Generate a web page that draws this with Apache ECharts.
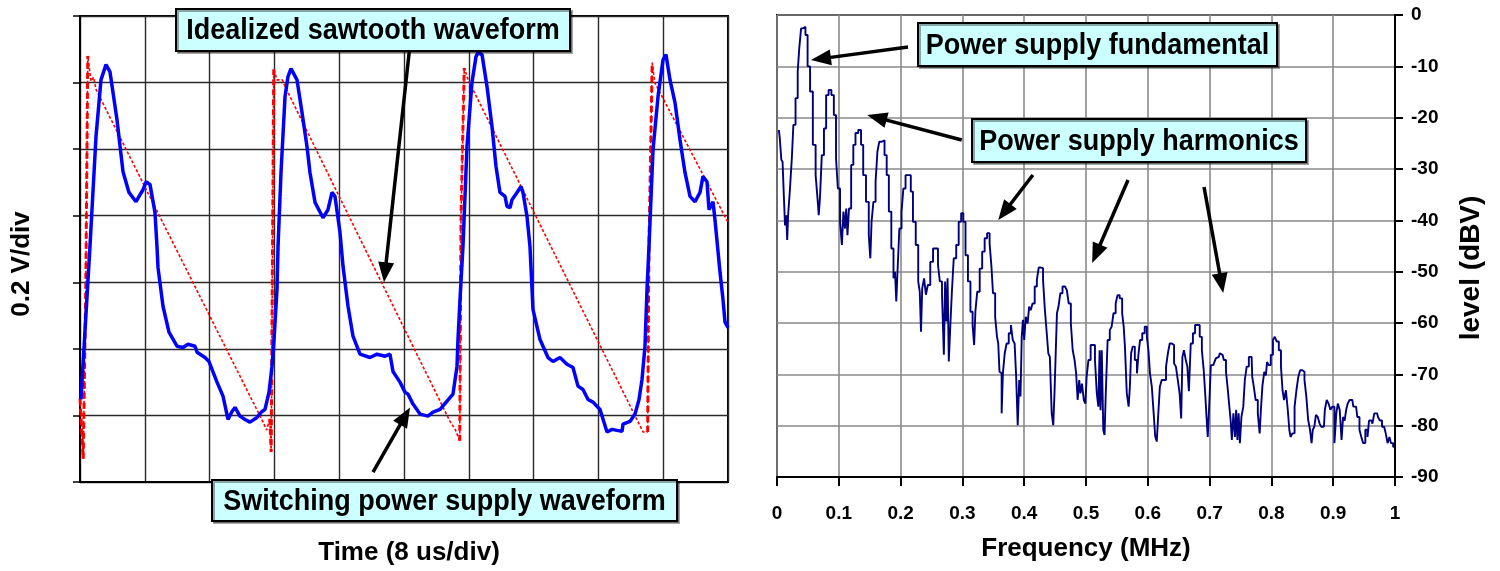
<!DOCTYPE html>
<html><head><meta charset="utf-8">
<script src="https://cdn.jsdelivr.net/npm/echarts@6/dist/echarts.min.js"></script>
<style>html,body{margin:0;padding:0;background:#fff}#c{width:1500px;height:571px}</style>
</head><body><div id="c"></div>
<script>
const FONT = '"Liberation Sans", Arial, Helvetica, sans-serif';

// ---- Left chart: oscilloscope trace (divisions) ----
const waveT = [0.015,0.154,0.247,0.324,0.401,0.463,0.571,0.664,0.756,0.864,
0.972,1.019,1.080,1.157,1.188,1.204,1.281,1.373,1.497,1.590,
1.667,1.775,1.806,1.929,1.991,2.114,2.207,2.284,2.346,2.392,
2.469,2.546,2.623,2.731,2.809,2.855,2.917,2.963,2.994,3.040,
3.056,3.102,3.164,3.210,3.256,3.349,3.426,3.503,3.549,3.627,
3.750,3.827,3.889,3.935,4.012,4.059,4.136,4.213,4.321,4.475,
4.583,4.707,4.784,4.830,4.938,5.015,5.062,5.139,5.247,5.370,
5.448,5.556,5.756,5.818,5.833,5.864,5.910,5.972,6.049,6.111,
6.142,6.204,6.281,6.358,6.420,6.481,6.559,6.590,6.636,6.667,
6.744,6.806,6.836,6.898,6.944,6.991,7.099,7.222,7.299,7.407,
7.515,7.608,7.685,7.762,7.840,7.917,8.025,8.133,8.210,8.364,
8.380,8.488,8.565,8.627,8.673,8.719,8.750,8.781,8.843,8.920,
8.997,9.043,9.105,9.182,9.259,9.336,9.414,9.491,9.568,9.614,
9.676,9.707,9.769,9.799,9.877,9.923,9.954,10.0];
const waveV = [1.24,3.54,5.19,6.04,6.27,6.16,5.44,4.66,4.35,4.21,
4.39,4.51,4.47,4.05,3.54,3.22,2.64,2.25,2.04,2.02,
2.07,2.04,1.95,1.87,1.81,1.50,1.29,0.94,1.06,1.12,
0.99,0.94,0.90,0.97,1.06,1.09,1.35,1.74,2.14,2.89,
3.54,4.65,5.79,6.09,6.21,6.04,5.55,5.04,4.65,4.20,
3.97,4.09,4.35,4.29,3.75,3.24,2.64,2.19,1.92,1.87,
1.92,1.89,1.92,1.66,1.50,1.35,1.32,1.17,1.02,0.99,
1.05,1.09,1.32,1.74,2.14,2.74,3.54,5.04,6.00,6.39,
6.45,6.42,5.94,5.34,4.74,4.35,4.29,4.14,4.12,4.24,
4.35,4.44,4.35,3.99,3.54,2.59,2.14,1.87,1.81,1.87,
1.77,1.72,1.44,1.39,1.24,1.20,1.09,0.75,0.79,0.76,
0.87,0.91,1.02,1.24,1.54,2.04,2.89,3.54,4.99,5.79,
6.34,6.42,6.04,5.70,5.14,4.65,4.29,4.21,4.35,4.59,
4.51,4.09,4.21,3.94,3.15,2.74,2.40,2.32];

// idealized sawtooth (full path) and its fast edges
const sawT = [0.00,0.05,0.09,0.12,0.17,0.21,0.25,2.82,2.88,2.93,2.95,2.99,3.04,3.12,3.19,5.71,5.79,5.86,5.88,5.93,5.99,8.69,8.76,8.78,8.83,8.87,8.95,10.0];
const sawV = [1.25,0.35,3.0,6.40,6.02,6.08,5.89,0.91,0.78,0.95,0.45,6.20,6.04,6.04,5.89,0.91,0.79,0.62,4.0,6.22,6.04,0.75,0.75,3.5,6.30,6.00,5.85,3.90];
const edgeT = [0.00,0.05,0.09,0.12,null,2.93,2.95,2.99,null,5.86,5.88,5.93,null,8.76,8.78,8.83];
const edgeV = [1.25,0.35,3.0,6.40,null,0.95,0.45,6.20,null,0.62,4.0,6.22,null,0.75,3.5,6.30];

// ---- Right chart: spectrum ----
const specF = [0.003,0.006,0.008,0.010,0.012,0.014,0.016,0.017,0.019,0.023,
0.025,0.028,0.032,0.035,0.037,0.041,0.044,0.048,0.051,0.056,
0.060,0.065,0.067,0.068,0.071,0.074,0.078,0.081,0.086,0.090,
0.094,0.097,0.100,0.104,0.106,0.109,0.111,0.113,0.115,0.118,
0.122,0.125,0.129,0.134,0.138,0.141,0.147,0.150,0.152,0.154,
0.158,0.161,0.164,0.167,0.172,0.176,0.179,0.183,0.187,0.190,
0.192,0.194,0.196,0.200,0.203,0.206,0.210,0.215,0.218,0.222,
0.227,0.230,0.232,0.234,0.236,0.240,0.242,0.246,0.250,0.255,
0.259,0.262,0.265,0.269,0.271,0.273,0.275,0.277,0.279,0.282,
0.284,0.288,0.292,0.296,0.300,0.303,0.307,0.311,0.315,0.318,
0.320,0.322,0.326,0.330,0.334,0.338,0.342,0.346,0.348,0.351,
0.355,0.357,0.359,0.361,0.363,0.364,0.367,0.370,0.373,0.377,
0.380,0.383,0.386,0.388,0.391,0.393,0.395,0.397,0.399,0.401,
0.404,0.407,0.409,0.412,0.415,0.419,0.422,0.425,0.429,0.432,
0.435,0.438,0.440,0.443,0.446,0.448,0.450,0.452,0.454,0.457,
0.460,0.464,0.468,0.470,0.474,0.477,0.480,0.483,0.485,0.488,
0.490,0.492,0.495,0.498,0.500,0.502,0.506,0.509,0.513,0.516,
0.519,0.521,0.523,0.524,0.527,0.529,0.531,0.533,0.537,0.540,
0.543,0.546,0.550,0.552,0.557,0.560,0.562,0.564,0.568,0.570,
0.572,0.574,0.577,0.581,0.584,0.586,0.589,0.593,0.597,0.600,
0.602,0.605,0.608,0.611,0.613,0.616,0.618,0.621,0.624,0.628,
0.631,0.634,0.637,0.641,0.644,0.647,0.650,0.653,0.655,0.657,
0.660,0.663,0.665,0.668,0.671,0.675,0.678,0.682,0.686,0.689,
0.692,0.694,0.696,0.698,0.701,0.703,0.706,0.709,0.711,0.715,
0.718,0.721,0.725,0.728,0.730,0.733,0.735,0.737,0.740,0.742,
0.744,0.746,0.748,0.750,0.753,0.756,0.758,0.762,0.765,0.768,
0.770,0.773,0.776,0.780,0.782,0.784,0.787,0.790,0.792,0.794,
0.797,0.801,0.804,0.807,0.810,0.814,0.817,0.819,0.822,0.825,
0.828,0.830,0.832,0.836,0.839,0.842,0.845,0.848,0.852,0.855,
0.858,0.861,0.864,0.866,0.868,0.871,0.873,0.877,0.879,0.882,
0.885,0.888,0.891,0.894,0.897,0.900,0.904,0.906,0.909,0.912,
0.915,0.917,0.920,0.922,0.925,0.928,0.931,0.934,0.937,0.941,
0.944,0.947,0.950,0.954,0.957,0.959,0.962,0.965,0.968,0.971,
0.974,0.977,0.981,0.984,0.986,0.990,0.992,0.995,0.999];
const specDB = [-22.4,-24,-28.2,-28.6,-35,-41,-39,-43.8,-39,-33.8,
-27.9,-21.4,-16.2,-11,-6.5,-2.6,-2.3,-3.9,-10,-14.9,
-25.3,-31.2,-36.4,-39,-35.7,-27.3,-22.1,-15.6,-14.6,-15.6,
-19.5,-27.9,-33.8,-40.3,-44.8,-38.3,-41.6,-37.7,-42.9,-37.7,
-29.2,-25.3,-23,-22.4,-25.3,-31.2,-36.4,-42.9,-47.4,-40.3,
-36.4,-32.5,-26.6,-24.7,-24.4,-27.3,-31.2,-38.3,-45.5,-51.3,
-50,-55.8,-50,-41.6,-38.3,-33.8,-31.2,-31.2,-34.4,-40.3,
-44.8,-51.9,-53.9,-61.7,-53.2,-51.3,-54.5,-52.6,-48.1,-45.5,
-45.5,-48.7,-51.9,-54.5,-66.2,-51.9,-59.7,-51.3,-67.5,-60.4,
-53.9,-47.4,-44.8,-40.3,-38.6,-40.3,-46.8,-51.9,-57.8,-60.4,
-64.3,-57.8,-53.9,-49.4,-46.1,-43.5,-42.5,-44.5,-49,-54.2,
-58.8,-62.7,-64,-69.5,-69.8,-77.6,-69.8,-65.9,-64,-62,
-60.4,-63.3,-64,-70.5,-79.9,-71.1,-74.3,-62.7,-59.4,-63.3,
-58.8,-60.1,-56.8,-57.5,-56.2,-52.9,-51.6,-49.2,-49.3,-51.6,
-57.5,-62,-65.9,-66.6,-77.6,-79.9,-73.7,-65.9,-58.1,-56.8,
-54.2,-52.9,-52.6,-53.6,-56.2,-60.1,-65.3,-67.2,-69.8,-75,
-71.1,-73.7,-71.8,-75,-75.7,-70.5,-67.2,-64.3,-64.3,-67.2,
-73.7,-76.3,-65.3,-77,-65.3,-80.9,-81.8,-73.7,-63.3,-61.4,
-60.7,-58.1,-56.2,-54.6,-55.2,-58.1,-60.7,-64.6,-73.7,-76.3,
-72.4,-65.9,-64.6,-67.2,-69.8,-65.9,-63.3,-62,-60.7,-62.7,
-65.3,-69.8,-72.4,-77.6,-82.1,-83.1,-77.6,-72.4,-71.1,-71.1,
-68.5,-65.9,-64,-64.3,-67.9,-68.5,-71.1,-73.7,-78.6,-66.6,
-65.3,-67.2,-68.5,-73.3,-64,-62,-60.4,-60.4,-62.7,-65.3,
-69.2,-74.0,-78.3,-82.2,-75.7,-68.2,-68.2,-68.5,-66.9,-66.6,
-65.9,-66.2,-67.2,-69.5,-72.4,-75.7,-78.9,-82.8,-77.6,-82.2,
-76.9,-82.8,-77.6,-83.4,-78.3,-76.3,-71.1,-68.5,-66.6,-66.6,
-70.5,-72.4,-75,-77.6,-81.5,-76.9,-72.2,-69.5,-70.2,-67.6,
-68.2,-66.2,-63.3,-62.7,-63.6,-65.3,-68.5,-73.1,-75,-73.1,
-76.9,-80.8,-82.2,-81.5,-76.3,-73.1,-70.5,-69.2,-69.5,-71.1,
-74.3,-78.9,-80.8,-83.4,-80.8,-80.2,-77.9,-78.3,-79.6,-80.2,
-80.2,-76.9,-75,-75.7,-76.9,-76.3,-83.4,-77.6,-75.7,-76.9,
-82.8,-78.3,-79,-76.9,-75.7,-75,-75,-76.3,-76.3,-78.3,
-80.8,-82.2,-83.4,-80.8,-82.2,-79,-79,-79.6,-77.6,-77.6,
-78.3,-79,-80.2,-80.2,-81.5,-83.4,-82.2,-83.4,-84.1];

// annotations: [text, box left, box top, box width, box height]
const boxes = [
  ['Idealized sawtooth waveform', 176, 9, 394, 42],
  ['Switching power supply waveform', 212, 480, 465, 41],
  ['Power supply fundamental', 918, 23, 359, 43],
  ['Power supply harmonics', 972, 119, 334, 43]
];
// arrows in data coords: [gridIndex, tailX, tailY, tipX, tipY]
const arrows = [
  [0, 5.093, 6.57, 4.691, 3.00],
  [0, 4.522, 0.15, 5.093, 1.12],
  [1, 0.212, -6.23, 0.055, -8.77],
  [1, 0.299, -24.35, 0.146, -19.48],
  [1, 0.414, -31.17, 0.358, -39.94],
  [1, 0.568, -32.15, 0.510, -48.32],
  [1, 0.691, -33.51, 0.722, -54.16]
];

const zip = (a, b) => a.map((v, i) => (v === null ? [null, null] : [v, b[i]]));
const nameStyle = {fontFamily: FONT, fontWeight: 'bold', fontSize: 26, color: '#000'};
const labelStyle = {fontFamily: FONT, fontWeight: 'bold', fontSize: 19, color: '#000'};

const chart = echarts.init(document.getElementById('c'), null, {renderer: 'canvas'});
chart.setOption({
  animation: false,
  backgroundColor: '#fff',
  grid: [
    {left: 80, top: 16, width: 648, height: 467, show: true, borderColor: '#000', borderWidth: 2, backgroundColor: 'transparent'},
    {left: 777, top: 15, width: 618, height: 462, show: true, borderColor: '#000', borderWidth: 2, backgroundColor: 'transparent'}
  ],
  xAxis: [
    {gridIndex: 0, type: 'value', min: 0, max: 10, interval: 1,
     axisLine: {onZero: false, lineStyle: {color: '#000', width: 2}},
     axisTick: {show: false}, axisLabel: {show: false},
     splitLine: {show: true, lineStyle: {color: '#2a2a2a', width: 1.4}},
     name: 'Time (8 us/div)', nameLocation: 'middle', nameGap: 58,
     nameTextStyle: Object.assign({}, nameStyle, {padding: [0, 0, 0, 10]})},
    {gridIndex: 1, type: 'value', min: 0, max: 1, interval: 0.1,
     axisLine: {onZero: false, lineStyle: {color: '#000', width: 2}},
     axisTick: {show: true, length: 9, lineStyle: {color: '#000', width: 2}},
     axisLabel: Object.assign({margin: 27, formatter: v => String(+v.toFixed(1))}, labelStyle),
     splitLine: {show: true, lineStyle: {color: '#8a8a8a', width: 1.6}},
     name: 'Frequency (MHz)', nameLocation: 'middle', nameGap: 59, nameTextStyle: nameStyle}
  ],
  yAxis: [
    {gridIndex: 0, type: 'value', min: 0, max: 7, interval: 1,
     axisLine: {show: true, onZero: false, lineStyle: {color: '#000', width: 2}},
     axisTick: {show: true, length: 7, lineStyle: {color: '#000', width: 1.5}},
     axisLabel: {show: false},
     splitLine: {show: true, lineStyle: {color: '#2a2a2a', width: 1.4}},
     name: '0.2 V/div', nameLocation: 'middle', nameGap: 45, nameRotate: 90,
     nameTextStyle: Object.assign({}, nameStyle, {padding: [0, 30, 0, 0]})},
    {gridIndex: 1, type: 'value', position: 'right', min: -90, max: 0, interval: 10,
     axisLine: {show: true, onZero: false, lineStyle: {color: '#000', width: 2}},
     axisTick: {show: true, length: 8, lineStyle: {color: '#000', width: 2}},
     axisLabel: Object.assign({margin: 16}, labelStyle),
     splitLine: {show: true, lineStyle: {color: '#8a8a8a', width: 1.6}},
     name: 'level (dBV)', nameLocation: 'middle', nameGap: 62, nameRotate: 90,
     nameTextStyle: Object.assign({}, nameStyle, {fontSize: 28, padding: [0, 44, 0, 0]})}
  ],
  series: [
    {name: 'Idealized sawtooth', type: 'line', xAxisIndex: 0, yAxisIndex: 0, data: zip(sawT, sawV),
     showSymbol: false, symbol: 'none', lineStyle: {color: '#ff0000', width: 1.6, type: [3, 2]}, z: 3},
    {name: 'Sawtooth edges', type: 'line', xAxisIndex: 0, yAxisIndex: 0, data: zip(edgeT, edgeV),
     showSymbol: false, symbol: 'none', connectNulls: false, lineStyle: {color: '#ff0000', width: 3, type: [6, 4]}, z: 3},
    {name: 'Switching waveform', type: 'line', xAxisIndex: 0, yAxisIndex: 0, data: zip(waveT, waveV),
     showSymbol: false, symbol: 'none', lineStyle: {color: '#0000ff', width: 3.5}, z: 4},
    {name: 'Spectrum', type: 'line', xAxisIndex: 1, yAxisIndex: 1, data: zip(specF, specDB),
     showSymbol: false, symbol: 'none', step: 'middle', lineStyle: {color: '#00007f', width: 1.9}, z: 4}
  ]
});

// annotations (text boxes + arrows anchored at data coordinates)
const gfx = [];
boxes.forEach(b => {
  gfx.push({type: 'rect', z: 100, shape: {x: b[1], y: b[2], width: b[3], height: b[4]},
    style: {fill: '#ccffff', stroke: '#000', lineWidth: 2, shadowColor: 'rgba(0,0,0,0.35)', shadowOffsetX: 2, shadowOffsetY: 2}});
  gfx.push({type: 'text', z: 101, x: b[1] + b[3] / 2, y: b[2] + b[4] / 2 + 1, scaleY: 1.1,
    style: {text: b[0], fill: '#000', font: 'bold 27px ' + FONT, align: 'center', verticalAlign: 'middle'}});
});
arrows.forEach(a => {
  const s = chart.convertToPixel({gridIndex: a[0]}, [a[1], a[2]]);
  const t = chart.convertToPixel({gridIndex: a[0]}, [a[3], a[4]]);
  const dx = t[0] - s[0], dy = t[1] - s[1], len = Math.hypot(dx, dy);
  const ux = dx / len, uy = dy / len, L = 20, W = 16;
  const bx = t[0] - ux * L, by = t[1] - uy * L;
  gfx.push({type: 'line', z: 99, shape: {x1: s[0], y1: s[1], x2: bx + ux * 2, y2: by + uy * 2},
    style: {stroke: '#000', lineWidth: 3.5}});
  gfx.push({type: 'polygon', z: 99, shape: {points: [[t[0], t[1]], [bx - uy * W / 2, by + ux * W / 2], [bx + uy * W / 2, by - ux * W / 2]]},
    style: {fill: '#000'}});
});
chart.setOption({graphic: gfx});
</script>
</body></html>
